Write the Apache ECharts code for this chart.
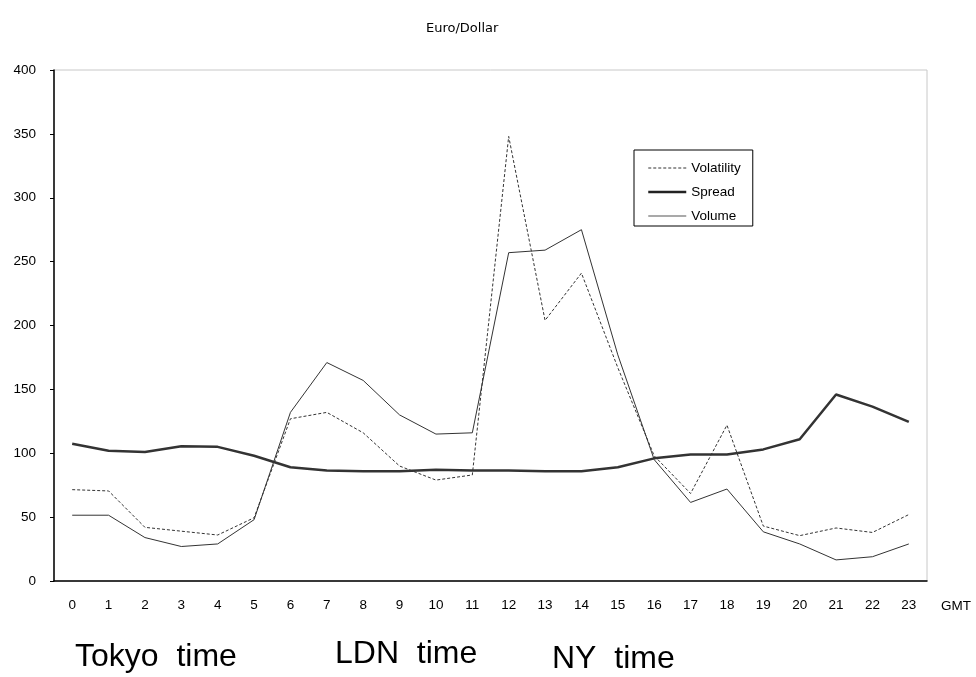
<!DOCTYPE html>
<html>
<head>
<meta charset="utf-8">
<script src="https://cdn.jsdelivr.net/npm/echarts@6/dist/echarts.min.js"></script>
<style>html,body{margin:0;padding:0;background:#fff}#c{width:976px;height:677px}</style>
</head>
<body>
<div id="c"></div>
<script>
const hours = ['0','1','2','3','4','5','6','7','8','9','10','11','12','13','14','15','16','17','18','19','20','21','22','23'];
const volatility = [71.5, 70.5, 42, 39, 36, 49.5, 127, 132, 116, 90, 79, 83, 348, 204, 241, 167, 98, 68.5, 122, 43, 35.5, 41.5, 38, 52];
const spread = [107.5, 102, 101, 105.5, 105, 98, 89, 86.5, 86, 86, 87, 86.5, 86.5, 86, 86, 89, 96, 99, 99, 103, 111, 146, 136.5, 124.5];
const volume = [51.5, 51.5, 34, 27, 29, 48, 132, 171, 157, 130, 115, 116, 257, 259, 275, 177, 95, 61.5, 72, 38.5, 29, 16.5, 19, 29];
const sessionLabels = ['Tokyo  time', 'LDN  time', 'NY  time'];

const FONT = '"Liberation Sans", Arial, sans-serif';
const chart = echarts.init(document.getElementById('c'), null, {renderer: 'canvas'});
chart.setOption({
  backgroundColor: '#fff',
  animation: false,
  title: {
    text: 'Euro/Dollar', left: 421, top: 17,
    textStyle: {fontSize: 13, fontWeight: 'normal', color: '#000', fontFamily: '"DejaVu Sans", sans-serif'}
  },
  legend: {
    orient: 'vertical', left: 634, top: 150,
    padding: [11, 12, 3, 13],
    itemWidth: 38, itemHeight: 14, itemGap: 10,
    borderColor: '#000', borderWidth: 1,
    backgroundColor: '#fff',
    itemStyle: {opacity: 0},
    textStyle: {fontSize: 13.5, color: '#000', fontFamily: FONT},
    data: [
      {name: 'Volatility', lineStyle: {width: 1, type: [3, 2], color: '#333'}},
      {name: 'Spread', lineStyle: {width: 2.5, type: 'solid', color: '#222'}},
      {name: 'Volume', lineStyle: {width: 1.2, type: 'solid', color: '#555'}}
    ]
  },
  grid: {left: 54, right: 49, top: 70, bottom: 96, show: true, borderColor: '#c8c8c8', borderWidth: 1},
  xAxis: {
    type: 'category', data: hours, boundaryGap: true,
    name: 'GMT', nameLocation: 'end', nameGap: 14,
    nameTextStyle: {fontSize: 13.5, color: '#000', fontFamily: FONT, verticalAlign: 'top', padding: [18, 0, 0, 0]},
    axisLine: {lineStyle: {color: '#000', width: 1.5}},
    axisTick: {inside: true, length: 4, lineStyle: {color: '#000'}},
    axisLabel: {fontSize: 13.5, color: '#000', margin: 17, fontFamily: FONT},
    splitLine: {show: false}
  },
  yAxis: {
    type: 'value', min: 0, max: 400, interval: 50,
    axisLine: {show: true, lineStyle: {color: '#000', width: 1.5}},
    axisTick: {show: true, inside: false, length: 4, lineStyle: {color: '#000'}},
    axisLabel: {fontSize: 13.5, color: '#000', margin: 18, fontFamily: FONT},
    splitLine: {show: false}
  },
  series: [
    {name: 'Volatility', type: 'line', data: volatility, symbol: 'none', color: '#333',
     lineStyle: {color: '#333', width: 1, type: [3, 2]}},
    {name: 'Spread', type: 'line', data: spread, symbol: 'none', color: '#333',
     lineStyle: {color: '#333', width: 2.5}},
    {name: 'Volume', type: 'line', data: volume, symbol: 'none', color: '#333',
     lineStyle: {color: '#333', width: 1}}
  ],
  graphic: [
    {type: 'text', x: 75, y: 657, style: {text: sessionLabels[0], fontSize: 32, fill: '#000', fontFamily: FONT, verticalAlign: 'middle'}},
    {type: 'text', x: 335, y: 654, style: {text: sessionLabels[1], fontSize: 32, fill: '#000', fontFamily: FONT, verticalAlign: 'middle'}},
    {type: 'text', x: 552, y: 659, style: {text: sessionLabels[2], fontSize: 32, fill: '#000', fontFamily: FONT, verticalAlign: 'middle'}}
  ]
});
</script>
</body>
</html>
